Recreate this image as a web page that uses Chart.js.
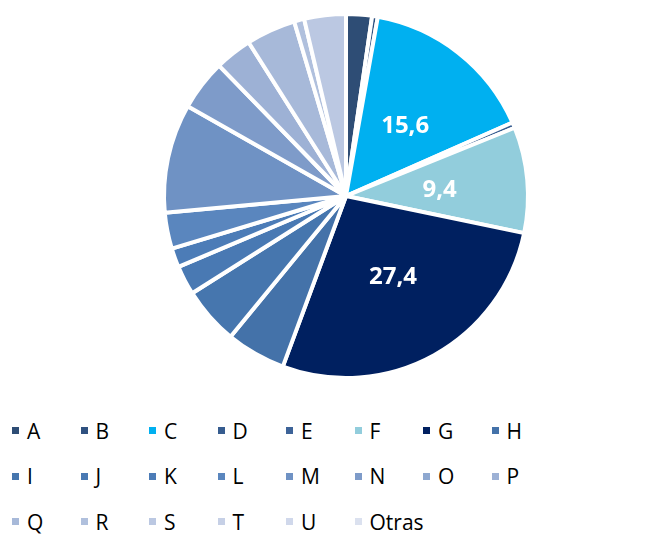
<!DOCTYPE html>
<html>
<head>
<meta charset="utf-8">
<script src="https://cdn.jsdelivr.net/npm/chart.js@4/dist/chart.umd.min.js"></script>
<style>
    html, body { margin: 0; padding: 0; background: #fff; }
    #wrap { position: relative; width: 650px; height: 534px; overflow: hidden; }
    #pie { position: absolute; left: 0; top: 0; }
    #legend {
        position: absolute; left: 12px; top: 408px;
        display: grid; grid-template-columns: repeat(8, 68.5px); grid-auto-rows: 45.5px;
        font-family: "Open Sans", sans-serif; font-size: 21px; color: #000;
    }
    .item { display: flex; align-items: center; height: 45.5px; white-space: nowrap; }
    .box { width: 7px; height: 7px; margin-right: 8px; flex: none; }
</style>
</head>
<body>
<div id="wrap">
    <canvas id="pie" width="650" height="392"></canvas>
    <div id="legend"></div>
</div>
<script>
    'use strict';

    var labels = ['A', 'B', 'C', 'D', 'E', 'F', 'G', 'H', 'I', 'J', 'K',
        'L', 'M', 'N', 'O', 'P', 'Q', 'R', 'S', 'T', 'U', 'Otras'];

    var values = [2.3, 0.5, 15.6, 0.5, 0, 9.4, 27.4, 5.3, 5.1, 2.6, 1.7,
        3.2, 9.7, 4.5, 0, 3.3, 4.4, 0.9, 3.7, 0, 0, 0];

    var colors = ['#2E4D75', '#2F5180', '#00B0F0', '#365C8F', '#3D6398', '#92CDDC', '#002060',
        '#4472A9', '#4676AE', '#4979B3', '#4C7CB7', '#5A86BE', '#6F92C4', '#7E9BC9',
        '#8EA8D0', '#9DB1D5', '#A7B9D9', '#B0C0DD', '#BBC8E2', '#C6D0E6', '#D0D8EB', '#DBE1EF'];

    // only these slices get their value written inside
    var labelled = ['C', 'F', 'G'];

    var sliceLabels = {
        id: 'sliceLabels',
        afterDatasetsDraw: function (chart) {
            var ctx = chart.ctx;
            var meta = chart.getDatasetMeta(0);
            ctx.save();
            ctx.font = 'bold 24px "Open Sans", sans-serif';
            ctx.fillStyle = '#fff';
            ctx.textAlign = 'center';
            ctx.textBaseline = 'middle';
            meta.data.forEach(function (arc, i) {
                if (labelled.indexOf(chart.data.labels[i]) < 0) return;
                var v = chart.data.datasets[0].data[i];
                var p = arc.tooltipPosition();
                ctx.fillText(v.toFixed(1).replace('.', ','), p.x + 3, p.y + 2);
            });
            ctx.restore();
        }
    };

    var chart = new Chart(document.getElementById('pie'), {
        type: 'pie',
        data: {
            labels: labels,
            datasets: [{
                data: values,
                backgroundColor: colors,
                borderColor: '#fff',
                borderWidth: 4
            }]
        },
        options: {
            responsive: false,
            animation: false,
            layout: { padding: { left: 42, right: 0, top: 12, bottom: 12 } },
            plugins: {
                legend: { display: false },
                tooltip: { enabled: false }
            }
        },
        plugins: [sliceLabels]
    });

    // legend as a fixed 8-column grid under the pie
    var legend = document.getElementById('legend');
    labels.forEach(function (l, i) {
        var item = document.createElement('div');
        item.className = 'item';
        var box = document.createElement('span');
        box.className = 'box';
        box.style.background = colors[i];
        var txt = document.createElement('span');
        txt.textContent = l;
        item.appendChild(box);
        item.appendChild(txt);
        legend.appendChild(item);
    });
</script>
</body>
</html>
